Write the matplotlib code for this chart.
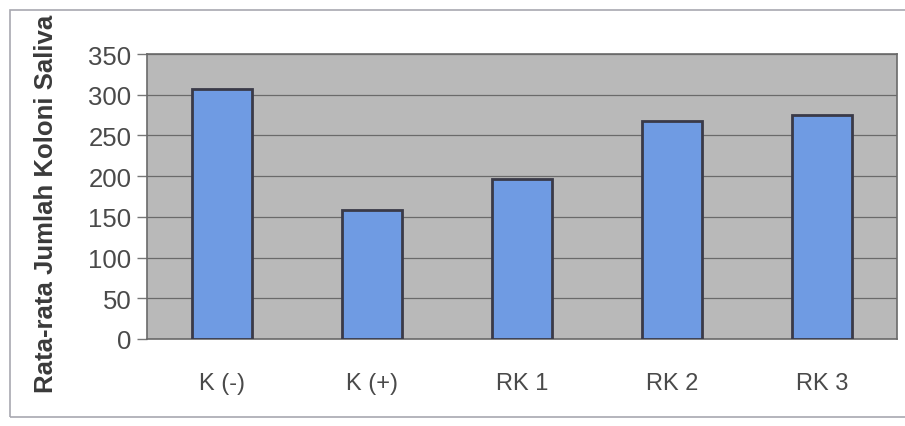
import matplotlib.pyplot as plt
from matplotlib.patches import Rectangle

categories = ["K (-)", "K (+)", "RK 1", "RK 2", "RK 3"]
values = [307, 158, 196, 268, 275]
yticks = [0, 50, 100, 150, 200, 250, 300, 350]

plt.rcParams["font.family"] = ["Liberation Sans", "DejaVu Sans"]

fig = plt.figure(figsize=(9.05, 4.27), dpi=100)
fig.patch.set_facecolor("white")

# outer frame of the figure
fig.patches.append(Rectangle((0.011, 0.02), 1.2, 0.955, transform=fig.transFigure,
                             fill=False, edgecolor="#a8a8b0", linewidth=1.2))

ax = fig.add_axes([0.162, 0.204, 0.829, 0.667])
ax.set_facecolor("#b9b9b9")

x = range(len(categories))
ax.bar(x, values, width=0.4, color="#6f9be3", edgecolor="#3a3a48", linewidth=2, zorder=3)

ax.set_xlim(-0.5, len(categories) - 0.5)
ax.set_ylim(0, 350)
ax.set_yticks(yticks)
ax.set_yticklabels([str(v) for v in yticks], fontsize=18.5, color="#4a4a4a")
ax.set_xticks(list(x))
ax.set_xticklabels(categories, fontsize=17, color="#4a4a4a")
ax.tick_params(axis="x", length=0, pad=24)
ax.tick_params(axis="y", length=7, width=1, color="#777777", pad=4)

ax.grid(axis="y", color="#6a6a6a", linewidth=0.9, zorder=1)
ax.set_axisbelow(True)
for s in ax.spines.values():
    s.set_color("#6a6a6a")
    s.set_linewidth(1.2)

ax.set_ylabel("Rata-rata Jumlah Koloni Saliva", fontsize=18.5, fontweight="bold",
              color="#3a3a3a")
ax.yaxis.set_label_coords(-0.118, 0.477)

fig.savefig("out.png", dpi=100)
